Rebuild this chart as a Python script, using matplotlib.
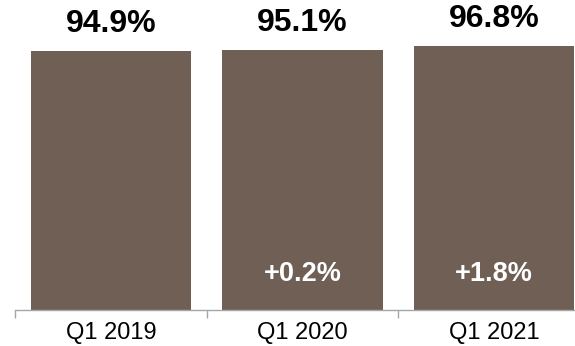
import matplotlib.pyplot as plt
from matplotlib.ticker import FixedLocator

plt.rcParams['font.family'] = ['Liberation Sans', 'DejaVu Sans']

quarters = ['Q1 2019', 'Q1 2020', 'Q1 2021']
occupancy = [94.9, 95.1, 96.8]
yoy_change = [None, 0.2, 1.8]

bar_color = '#705f55'
axis_color = '#a6a6a6'

fig = plt.figure(figsize=(5.75, 3.46), dpi=100)
# axes runs past the right edge on purpose, last category is cut off
ax = fig.add_axes([15 / 575, 36 / 346, 575 / 575, 273 / 346])

x = list(range(len(quarters)))
ax.bar(x, occupancy, width=0.835, color=bar_color, zorder=2)

ax.set_xlim(-0.5, 2.5)
ax.set_ylim(0, 100)

# value labels above each bar
for xi, v in zip(x, occupancy):
    ax.annotate(f'{v:.1f}%', (xi, v), xytext=(0, 13.7), textcoords='offset points',
                ha='center', va='baseline', fontsize=23, fontweight='bold', color='black')

# change vs prior year inside the bars
for xi, ch in zip(x, yoy_change):
    if ch is None:
        continue
    ax.annotate(f'+{ch:.1f}%', (xi, 0), xytext=(0, 20.9), textcoords='offset points',
                ha='center', va='baseline', fontsize=19.5, fontweight='bold', color='white')

for side in ['top', 'right', 'left']:
    ax.spines[side].set_visible(False)
ax.spines['bottom'].set_color(axis_color)
ax.spines['bottom'].set_linewidth(1.0)

ax.set_yticks([])
ax.set_xticks(x)
ax.set_xticklabels(quarters, fontsize=17)
ax.tick_params(axis='x', which='major', length=0, pad=8.5)
ax.xaxis.set_minor_locator(FixedLocator([-0.5, 0.5, 1.5, 2.5]))
ax.tick_params(axis='x', which='minor', length=5.5, width=1.0, color=axis_color, direction='out')

fig.savefig('out.png', dpi=100)
